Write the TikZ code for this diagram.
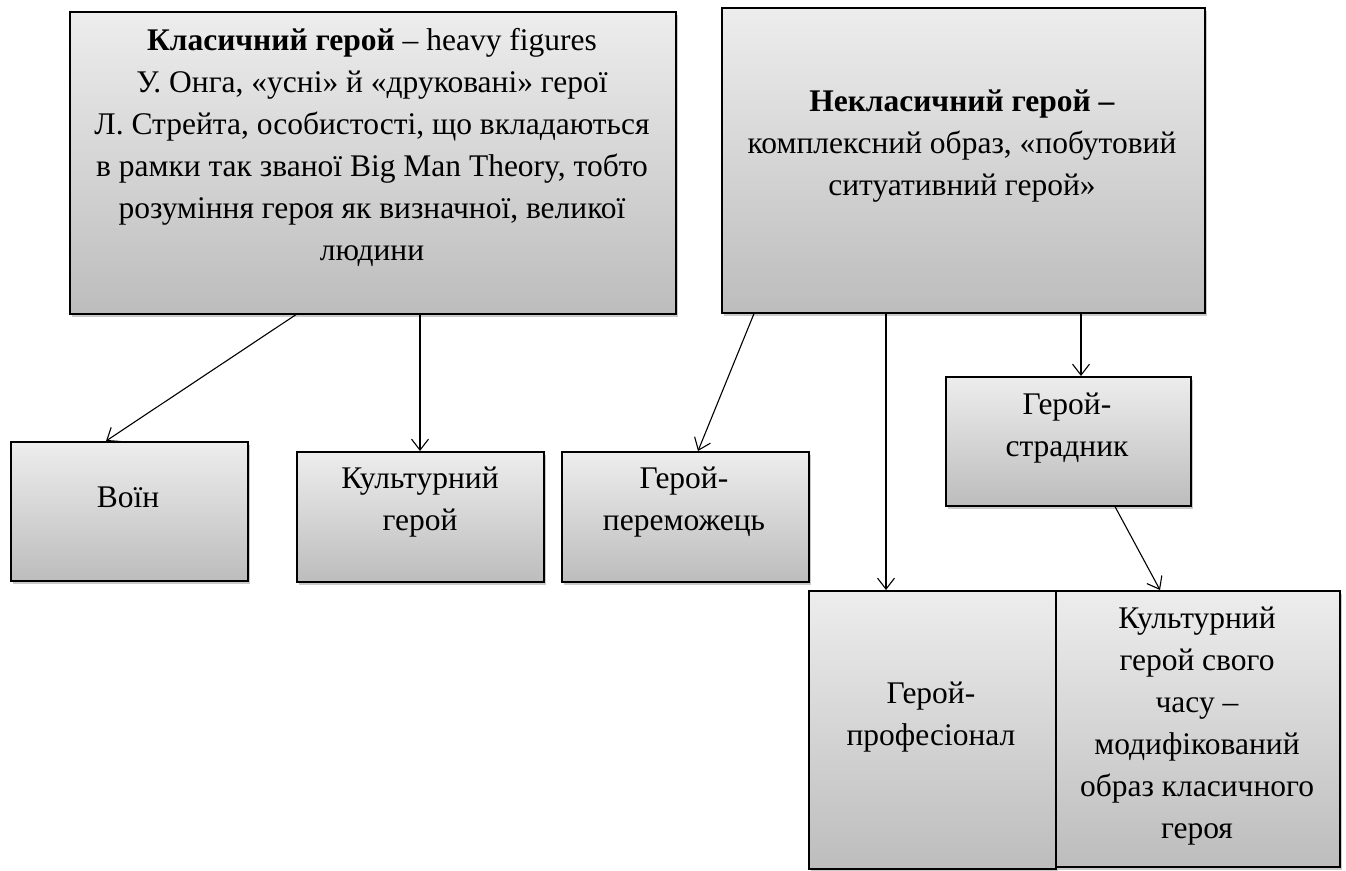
\documentclass[tikz,border=0pt]{standalone}
\usepackage{fontspec}
\setmainfont{Liberation Serif}
\usetikzlibrary{arrows.meta,shadows,calc}
\begin{document}
\begin{tikzpicture}[x=1pt,y=-1pt,
  box/.style={draw=black,line width=1.6pt,top color=black!7,bottom color=black!26,
    drop shadow={shadow xshift=2.5pt,shadow yshift=-3pt,opacity=0.35,fill=black!60},
    anchor=north west,inner sep=0pt,rectangle},
  txt/.style={align=center,inner sep=0pt,font=\fontsize{31.5pt}{42pt}\selectfont},
  arr/.style={line width=1.1pt,-{Straight Barb[length=11pt,width=17pt,line width=1.1pt]}}]
\useasboundingbox (0,0) rectangle (1346,870);
\node[box,minimum width=606pt,minimum height=302pt] (c) at (69,11) {};
\node[box,minimum width=483pt,minimum height=305pt] (n) at (721,7) {};
\node[box,minimum width=237pt,minimum height=139pt] (voin) at (10,441) {};
\node[box,minimum width=247pt,minimum height=130pt] (kult) at (296,451) {};
\node[box,minimum width=247pt,minimum height=130pt] (perem) at (561,451) {};
\node[box,minimum width=245pt,minimum height=129pt] (strad) at (945,376) {};
\node[box,minimum width=247pt,minimum height=278pt] (prof) at (808,590) {};
\node[box,minimum width=284pt,minimum height=276pt] (chas) at (1055,590) {};

\node[txt] (tc) at (372,147) {\textbf{Класичний герой} – heavy figures\\
У. Онга, «усні» й «друковані» герої\\
Л. Стрейта, особистості, що вкладаються\\
в рамки так званої Big Man Theory, тобто\\
розуміння героя як визначної, великої\\
людини};
\node[txt] (tn) at (962,146) {\textbf{Некласичний герой –}\\
комплексний образ, «побутовий\\
ситуативний герой»};
\node[txt] (tvoin) at (128,497) {Воїн};
\node[txt] (tkult) at (420,502) {Культурний\\герой};
\node[txt] (tperem) at (684,502) {Герой-\\переможець};
\node[txt] (tstrad) at (1067,428) {Герой-\\страдник};
\node[txt] (tprof) at (931,717) {Герой-\\професіонал};
\node[txt] (tchas) at (1197,726) {Культурний\\герой свого\\часу –\\модифікований\\образ класичного\\героя};

\draw[arr] ([xshift=227pt]c.south west) -- ([xshift=96pt]voin.north west);
\draw[arr] ([xshift=351pt]c.south west) -- ([xshift=124pt]kult.north west);
\draw[arr] ([xshift=33pt]n.south west) -- ([xshift=137pt]perem.north west);
\draw[arr] ([xshift=165pt]n.south west) -- ([xshift=78pt]prof.north west);
\draw[arr] ([xshift=360pt]n.south west) -- ([xshift=136pt]strad.north west);
\draw[arr] ([xshift=170pt]strad.south west) -- ([xshift=105pt]chas.north west);
\end{tikzpicture}
\end{document}
